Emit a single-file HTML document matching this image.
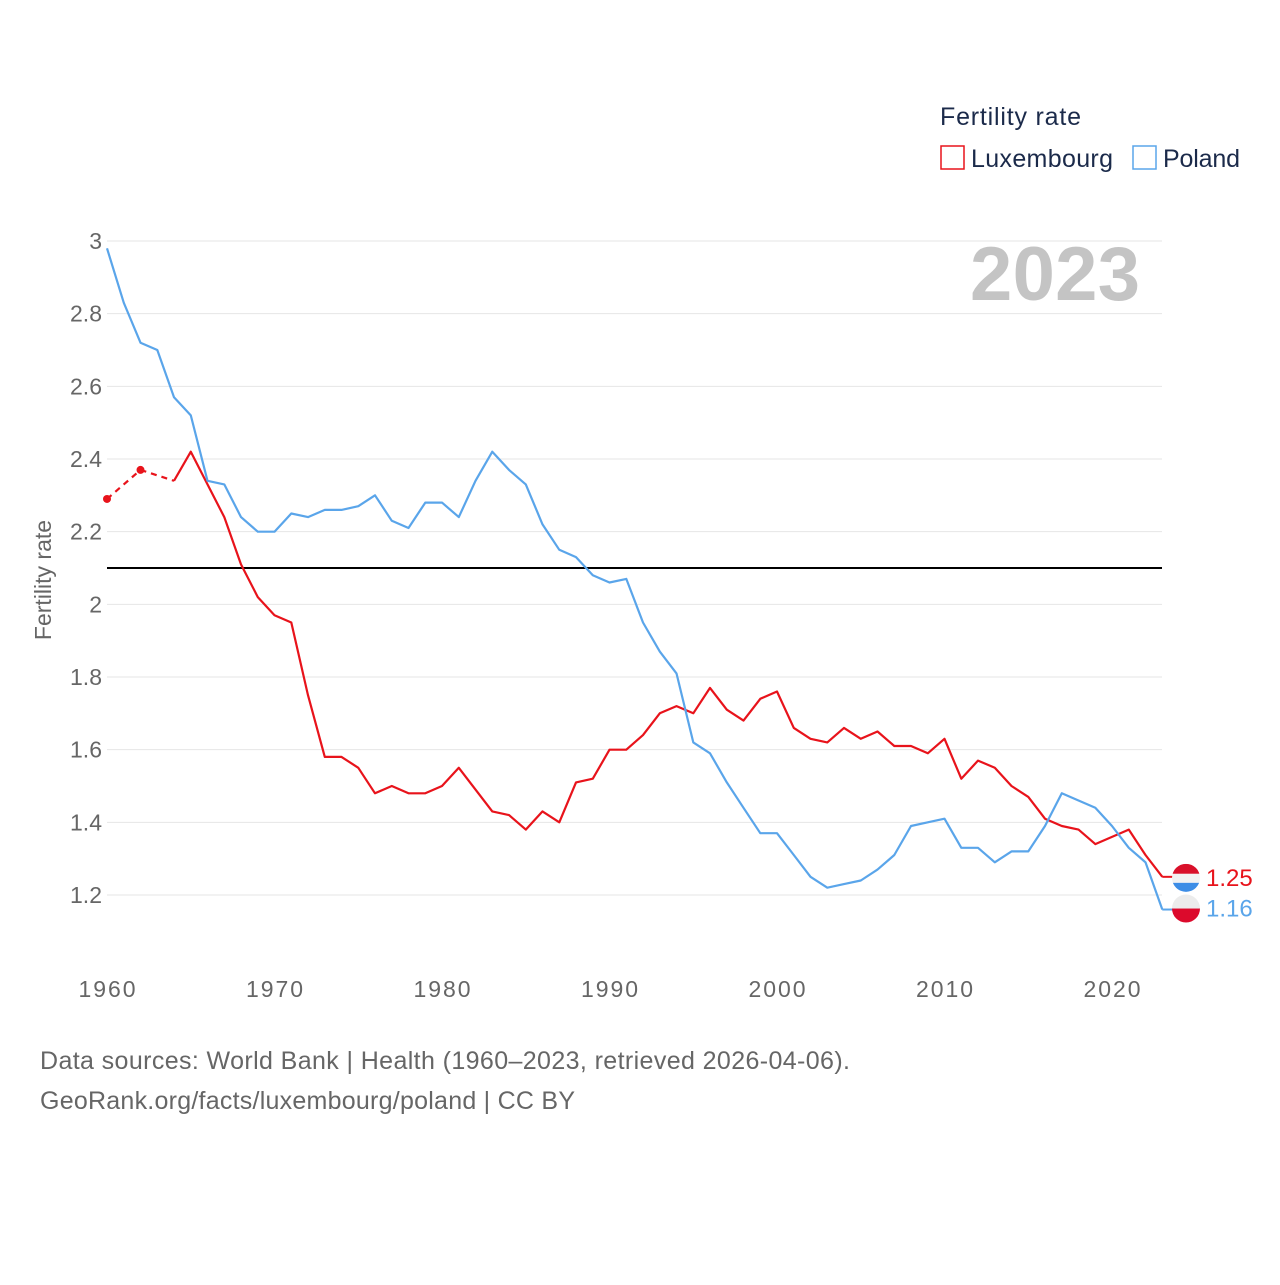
<!DOCTYPE html>
<html><head><meta charset="utf-8"><style>
body{margin:0;background:#fff;font-family:"Liberation Sans",sans-serif}
svg text{font-family:"Liberation Sans",sans-serif}
</style></head><body>
<svg id="c" width="1280" height="1280" viewBox="0 0 1280 1280">
<text x="940" y="125" font-size="25" fill="#1b2a4a" textLength="141">Fertility rate</text>
<g><rect x="941" y="146" width="23" height="23" fill="none" stroke="#e8131b" stroke-width="1.5"/><text x="971" y="167" font-size="25" fill="#1b2a4a" textLength="142">Luxembourg</text></g>
<g><rect x="1133" y="146" width="23" height="23" fill="none" stroke="#5aa5ea" stroke-width="1.5"/><text x="1163" y="167" font-size="25" fill="#1b2a4a" textLength="77">Poland</text></g>
<text x="1140" y="300" font-size="76" font-weight="bold" fill="#c4c4c4" text-anchor="end" textLength="170">2023</text>
<text transform="translate(51,580) rotate(-90)" font-size="23" fill="#666" text-anchor="middle">Fertility rate</text>
<g id="grid"></g><g id="marks"></g>
<text x="40" y="1069" font-size="25" fill="#666" textLength="810">Data sources: World Bank | Health (1960–2023, retrieved 2026-04-06).</text>
<text x="40" y="1109" font-size="25" fill="#666" textLength="535">GeoRank.org/facts/luxembourg/poland | CC BY</text>
</svg>
<script>
const years=[];for(let y=1960;y<=2023;y++)years.push(y);
const yTicks=[1.2,1.4,1.6,1.8,2,2.2,2.4,2.6,2.8,3];
const xTicks=[1960,1970,1980,1990,2000,2010,2020];
const luxembourg=[2.29,null,2.37,null,2.34,2.42,2.33,2.24,2.11,2.02,1.97,1.95,1.75,1.58,1.58,1.55,1.48,1.50,1.48,1.48,1.50,1.55,1.49,1.43,1.42,1.38,1.43,1.40,1.51,1.52,1.60,1.60,1.64,1.70,1.72,1.70,1.77,1.71,1.68,1.74,1.76,1.66,1.63,1.62,1.66,1.63,1.65,1.61,1.61,1.59,1.63,1.52,1.57,1.55,1.50,1.47,1.41,1.39,1.38,1.34,1.36,1.38,1.31,1.25];
const poland=[2.98,2.83,2.72,2.70,2.57,2.52,2.34,2.33,2.24,2.20,2.20,2.25,2.24,2.26,2.26,2.27,2.30,2.23,2.21,2.28,2.28,2.24,2.34,2.42,2.37,2.33,2.22,2.15,2.13,2.08,2.06,2.07,1.95,1.87,1.81,1.62,1.59,1.51,1.44,1.37,1.37,1.31,1.25,1.22,1.23,1.24,1.27,1.31,1.39,1.40,1.41,1.33,1.33,1.29,1.32,1.32,1.39,1.48,1.46,1.44,1.39,1.33,1.29,1.16];
const replacement=2.1;
const X=y=>107+(y-1960)*(1005/60);
const Y=v=>241+(3-v)*(654/1.8);
const NS='http://www.w3.org/2000/svg';
function mk(t,a,p){const e=document.createElementNS(NS,t);for(const k in a)e.setAttribute(k,a[k]);p.appendChild(e);return e;}
const grid=document.getElementById('grid'),marks=document.getElementById('marks');
yTicks.forEach(v=>{const l=mk('line',{x1:107,x2:1162,y1:Y(v),y2:Y(v),stroke:'#e6e6e6','stroke-width':1},grid);


const t=mk('text',{x:102,y:Y(v)+8,'font-size':23,fill:'#666','text-anchor':'end'},grid);t.textContent=String(v);

});
xTicks.forEach(y=>{const t=mk('text',{x:X(y),y:997,'font-size':23,fill:'#666','text-anchor':'middle',textLength:57},grid);t.textContent=y;

});
const rl=mk('line',{x1:107,x2:1162,y1:Y(replacement),y2:Y(replacement),stroke:'#000','stroke-width':2},marks);


function draw(vals,color,name){
 let solid='',dash='',prev=null;
 vals.forEach((v,i)=>{if(v==null)return;const p=X(years[i]).toFixed(1)+','+Y(v).toFixed(1);
  if(prev&&prev.i===i-1){solid+=(solid?' L':'M')+prev.p+' L'+p;}
  else if(prev){dash+='M'+prev.p+' L'+p+' ';}
  prev={i,p};});
 const s=mk('path',{d:solid,fill:'none',stroke:color,'stroke-width':2.2,'stroke-linejoin':'round'},marks);
 
 
 if(dash){const d=mk('path',{d:dash,fill:'none',stroke:color,'stroke-width':2.2,'stroke-dasharray':'6,5'},marks);
 
 }
 vals.forEach((v,i)=>{if(v==null)return;const a=i>0&&vals[i-1]!=null,b=i<vals.length-1&&vals[i+1]!=null;
  if(!a&&!b){const c=mk('circle',{cx:X(years[i]),cy:Y(v),r:4,fill:color},marks);
  
  }});
 const last=vals[vals.length-1];
 const e=mk('line',{x1:X(2023),x2:1175,y1:Y(last),y2:Y(last),stroke:color,'stroke-width':2},marks);
 
 
}
draw(luxembourg,'#e8131b','luxembourg');
draw(poland,'#5aa5ea','poland');
const lv=luxembourg[63],pv=poland[63];
const fl=mk('g',{},marks);


const cy1=Y(lv)+1;
mk('clipPath',{id:'c1'},fl);mk('circle',{cx:1186,cy:cy1,r:14},document.getElementById('c1'));
mk('rect',{x:1172,y:cy1-14,width:28,height:10,fill:'#d9102a','clip-path':'url(#c1)'},fl);
mk('rect',{x:1172,y:cy1-4,width:28,height:9,fill:'#f2f2f2','clip-path':'url(#c1)'},fl);
mk('rect',{x:1172,y:cy1+5,width:28,height:10,fill:'#3d8de6','clip-path':'url(#c1)'},fl);
const fp=mk('g',{},marks);


const cy2=Y(pv)-1;
mk('clipPath',{id:'c2'},fp);mk('circle',{cx:1186,cy:cy2,r:14},document.getElementById('c2'));
mk('rect',{x:1172,y:cy2-14,width:28,height:14,fill:'#ececec','clip-path':'url(#c2)'},fp);
mk('rect',{x:1172,y:cy2,width:28,height:15,fill:'#dc0a2c','clip-path':'url(#c2)'},fp);
const t1=mk('text',{x:1206,y:cy1+8,'font-size':24,fill:'#e8131b'},marks);t1.textContent=lv.toFixed(2);


const t2=mk('text',{x:1206,y:cy2+8,'font-size':24,fill:'#5aa5ea'},marks);t2.textContent=pv.toFixed(2);


</script>
</body></html>
